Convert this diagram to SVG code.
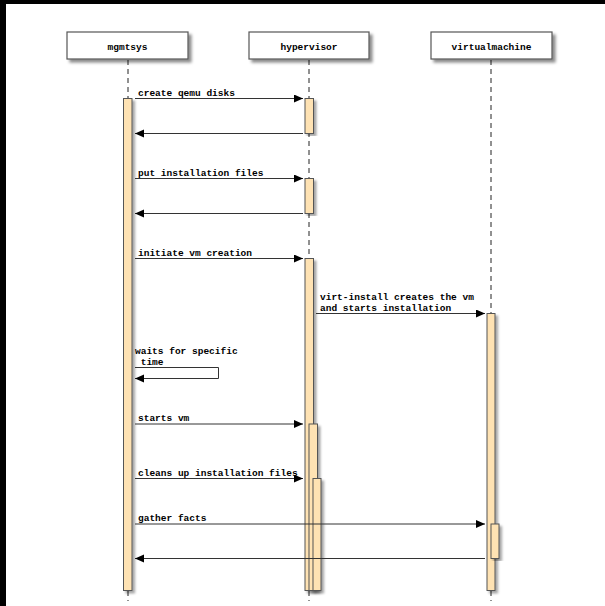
<svg xmlns="http://www.w3.org/2000/svg" width="605" height="606" viewBox="0 0 605 606">
<defs>
<filter id="sh" x="-20%" y="-20%" width="150%" height="150%">
<feDropShadow dx="3" dy="3" stdDeviation="1.5" flood-color="#000" flood-opacity="0.45"/>
</filter>
<filter id="shb" x="-50%" y="-5%" width="250%" height="110%">
<feDropShadow dx="2.5" dy="2.5" stdDeviation="1.2" flood-color="#000" flood-opacity="0.35"/>
</filter>
<marker id="ah" markerUnits="userSpaceOnUse" markerWidth="10" markerHeight="10" refX="9" refY="4" orient="auto">
<path d="M0,0 L9,4 L0,8 z" fill="#000"/>
</marker>
<style>
text{font-family:"Liberation Mono","DejaVu Sans Mono",monospace;font-size:9.5px;font-weight:bold;fill:#000}
.box{fill:#fff;stroke:#555;stroke-width:1.2}
.life{stroke:#222;stroke-width:1;stroke-dasharray:5,4;fill:none}
.bar{fill:#FEE2B3;stroke:#555;stroke-width:1}
.msg{stroke:#333;stroke-width:1;fill:none}
</style>
</defs>
<rect x="0" y="0" width="605" height="606" fill="#000"/>
<rect x="6" y="4" width="599" height="602" fill="#fff"/>

<g id="mgmtsys">
<line class="life" x1="128" y1="60" x2="128" y2="601"/>
<rect class="box" x="67" y="32" width="121" height="27" filter="url(#sh)"/>
<text x="127.5" y="49.5" text-anchor="middle">mgmtsys</text>
<rect class="bar" x="123.5" y="98.5" width="8.5" height="492" filter="url(#shb)"/>
</g>

<g id="hypervisor">
<line class="life" x1="309" y1="60" x2="309" y2="601"/>
<rect class="box" x="249" y="32" width="120" height="27" filter="url(#sh)"/>
<text x="309" y="49.5" text-anchor="middle">hypervisor</text>
<rect class="bar" x="305" y="98.5" width="8.5" height="35" filter="url(#shb)"/>
<rect class="bar" x="305" y="178.5" width="8.5" height="35" filter="url(#shb)"/>
<rect class="bar" x="305" y="258.5" width="8.5" height="332" filter="url(#shb)"/>
<rect class="bar" x="309" y="424" width="8.5" height="166.5" filter="url(#shb)"/>
<rect class="bar" x="313" y="478.5" width="8" height="112" filter="url(#shb)"/>
</g>

<g id="virtualmachine">
<line class="life" x1="491" y1="60" x2="491" y2="601"/>
<rect class="box" x="431" y="32" width="121" height="27" filter="url(#sh)"/>
<text x="491.5" y="49.5" text-anchor="middle">virtualmachine</text>
<rect class="bar" x="487" y="313.5" width="8" height="277" filter="url(#shb)"/>
<rect class="bar" x="491" y="524" width="8" height="34.5" filter="url(#shb)"/>
</g>

<g id="connectors">
<line class="msg" x1="135" y1="98.5" x2="303" y2="98.5" marker-end="url(#ah)"/>
<text x="138" y="95.5">create qemu disks</text>
<line class="msg" x1="303" y1="133.5" x2="135" y2="133.5" marker-end="url(#ah)"/>

<line class="msg" x1="135" y1="178.5" x2="303" y2="178.5" marker-end="url(#ah)"/>
<text x="138" y="175.5">put installation files</text>
<line class="msg" x1="303" y1="213.5" x2="135" y2="213.5" marker-end="url(#ah)"/>

<line class="msg" x1="135" y1="258.5" x2="303" y2="258.5" marker-end="url(#ah)"/>
<text x="138" y="255.5">initiate vm creation</text>

<line class="msg" x1="316" y1="313.5" x2="485" y2="313.5" marker-end="url(#ah)"/>
<text x="320" y="299.5">virt-install creates the vm</text>
<text x="320" y="310.5">and starts installation</text>

<text x="135" y="353.5">waits for specific</text>
<text x="135" y="364.5" xml:space="preserve"> time</text>
<path class="msg" d="M135,367.5 H218.5 V378.5 H135" marker-end="url(#ah)"/>

<line class="msg" x1="135" y1="424" x2="303" y2="424" marker-end="url(#ah)"/>
<text x="138" y="421">starts vm</text>

<line class="msg" x1="135" y1="478.5" x2="303" y2="478.5" marker-end="url(#ah)"/>
<text x="138" y="475.5">cleans up installation files</text>

<line class="msg" x1="135" y1="524" x2="485" y2="524" marker-end="url(#ah)"/>
<text x="138" y="521">gather facts</text>
<line class="msg" x1="485" y1="558.5" x2="135" y2="558.5" marker-end="url(#ah)"/>
</g>
</svg>
